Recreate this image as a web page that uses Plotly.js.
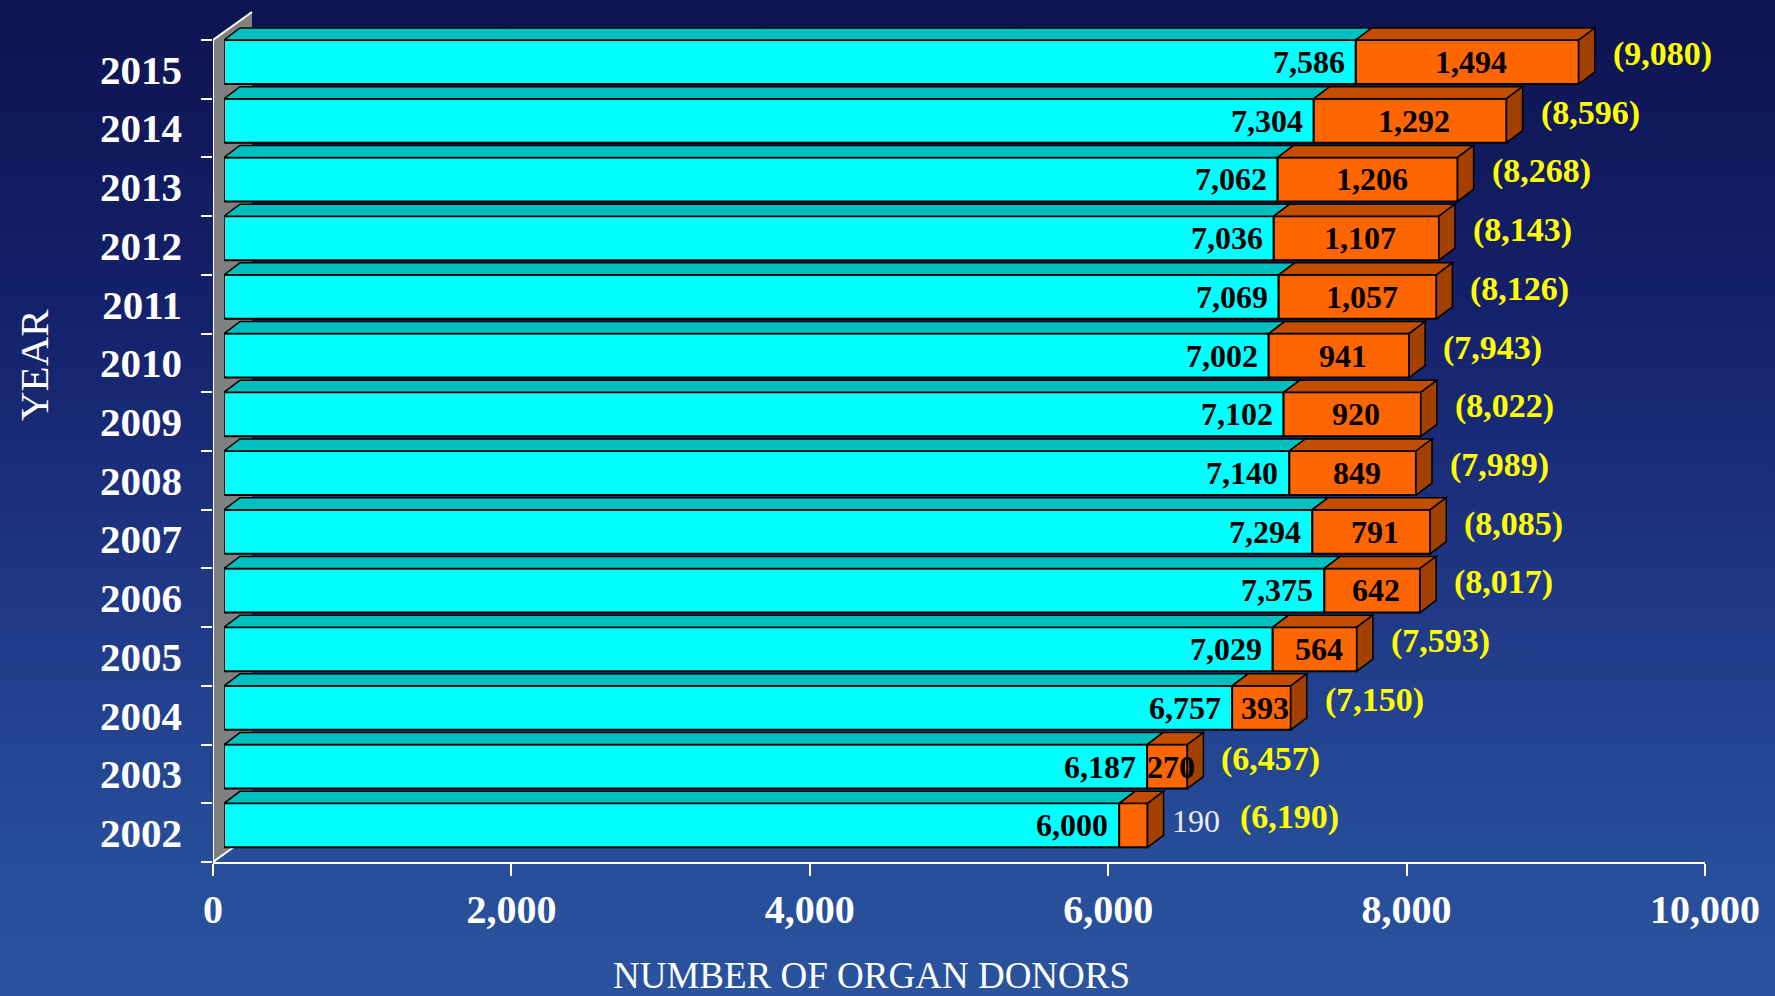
<!DOCTYPE html>
<html>
<head>
<meta charset="utf-8">
<script src="https://cdn.plot.ly/plotly-3.0.1.min.js"></script>
<style>
  html, body { margin: 0; padding: 0; }
  body {
    width: 1775px; height: 996px; overflow: hidden;
    background: linear-gradient(to bottom, #0e1450 0%, #14206a 30%, #1f3886 60%, #274d98 85%, #2a529d 100%);
  }
  #chart { width: 1775px; height: 996px; }
</style>
</head>
<body>
<div id="chart"></div>
<script>
// ---- data ----
const years = [2002, 2003, 2004, 2005, 2006, 2007, 2008, 2009, 2010, 2011, 2012, 2013, 2014, 2015];
const cyanSegment = [6000, 6187, 6757, 7029, 7375, 7294, 7140, 7102, 7002, 7069, 7036, 7062, 7304, 7586];
const orangeSegment = [190, 270, 393, 564, 642, 791, 849, 920, 941, 1057, 1107, 1206, 1292, 1494];
const xTickValues = [0, 2000, 4000, 6000, 8000, 10000];
const xTitle = 'NUMBER OF ORGAN DONORS';
const yTitle = 'YEAR';

// ---- layout geometry (styles) ----
const W = 1775, H = 996;
const ML = 213, MR = 59, MT = 11, MB = 134;
const plotW = W - ML - MR;            // 1503
const axisPx = 1492;                  // visible axis length
const shiftPx = 11;                   // bar front face offset
const PXX = axisPx / 10000;           // px per x unit
const PXY = 58.71;                    // px per year
const topExtra = 29 / PXY;
const barW = 44 / PXY;
const barOff = 0.5 - barW;
const DX = 16 / PXX, DY = 12 / PXY;    // bar depth
const WX = 39 / PXX, WY = 28 / PXY;    // wall depth
const serif = "'Liberation Serif', 'Times New Roman', serif";
const fmt = v => v.toLocaleString('en-US');

const totals = cyanSegment.map((v, i) => v + orangeSegment[i]);

const traces = [
  {
    type: 'bar', orientation: 'h', xaxis: 'x2', yaxis: 'y',
    y: years, x: cyanSegment, base: 0,
    width: barW, offset: barOff,
    marker: { color: '#00FFFF', line: { color: '#000000', width: 2 } },
    hoverinfo: 'skip', showlegend: false
  },
  {
    type: 'bar', orientation: 'h', xaxis: 'x2', yaxis: 'y',
    y: years, x: orangeSegment, base: cyanSegment,
    width: barW, offset: barOff,
    marker: { color: '#FF6600', line: { color: '#000000', width: 2 } },
    hoverinfo: 'skip', showlegend: false
  }
];

const shapes = [];
// back wall
const y0 = years[0] - 0.5, y1 = years[years.length - 1] + 0.5;
shapes.push({
  type: 'path', xref: 'x', yref: 'y', layer: 'below',
  path: `M 0 ${y0} L 0 ${y1} L ${WX} ${y1 + WY} L ${WX} ${y0 + WY} Z`,
  fillcolor: '#808080', line: { width: 0 }
});
shapes.push({ type: 'line', xref: 'x', yref: 'y', layer: 'below', x0: 0, y0: y0, x1: WX, y1: y0 + WY, line: { color: '#FFFFFF', width: 2 } });
shapes.push({ type: 'line', xref: 'x', yref: 'y', layer: 'above', x0: 0, y0: y1, x1: WX, y1: y1 + WY, line: { color: '#FFFFFF', width: 2 } });
shapes.push({ type: 'line', xref: 'x', yref: 'y', layer: 'above', x0: 0, y0: y0, x1: 0, y1: y1, line: { color: '#FFFFFF', width: 2 } });

// 3D faces
years.forEach((yr, i) => {
  const c = cyanSegment[i], t = totals[i];
  const yt = yr + barOff + barW, yb = yr + barOff;
  shapes.push({
    type: 'path', xref: 'x2', yref: 'y', layer: 'above',
    path: `M 0 ${yt} L ${c} ${yt} L ${c + DX} ${yt + DY} L ${DX} ${yt + DY} Z`,
    fillcolor: '#00BFBF', line: { color: '#000000', width: 1.5 }
  });
  shapes.push({
    type: 'path', xref: 'x2', yref: 'y', layer: 'above',
    path: `M ${c} ${yt} L ${t} ${yt} L ${t + DX} ${yt + DY} L ${c + DX} ${yt + DY} Z`,
    fillcolor: '#C44E00', line: { color: '#000000', width: 1.5 }
  });
  shapes.push({
    type: 'path', xref: 'x2', yref: 'y', layer: 'above',
    path: `M ${t} ${yt} L ${t + DX} ${yt + DY} L ${t + DX} ${yb + DY} L ${t} ${yb} Z`,
    fillcolor: '#A24000', line: { color: '#000000', width: 1.5 }
  });
});

const annotations = [];
years.forEach((yr, i) => {
  const c = cyanSegment[i], o = orangeSegment[i], t = totals[i];
  const yc = yr + barOff + barW / 2;
  annotations.push({
    xref: 'x2', yref: 'y', x: c, y: yc, xanchor: 'right', yanchor: 'middle', xshift: -9,
    text: fmt(c), showarrow: false,
    font: { family: serif, size: 32, color: '#000000', weight: 'bold' }
  });
  let extra = 0;
  if (o < 200) {
    annotations.push({
      xref: 'x2', yref: 'y', x: t, y: yc, xanchor: 'left', yanchor: 'middle', xshift: 22, yshift: 4,
      text: fmt(o), showarrow: false,
      font: { family: serif, size: 32, color: '#ECECF8' }
    });
    extra = 58;
  } else {
    annotations.push({
      xref: 'x2', yref: 'y', x: c + o / 2, y: yc, xanchor: 'center', yanchor: 'middle', xshift: 4,
      text: fmt(o), showarrow: false,
      font: { family: serif, size: 32, color: '#000000', weight: 'bold' }
    });
  }
  annotations.push({
    xref: 'x2', yref: 'y', x: t, y: yc, xanchor: 'left', yanchor: 'middle',
    xshift: 32 + extra, yshift: 8,
    text: '(' + fmt(t) + ')', showarrow: false,
    font: { family: serif, size: 34, color: '#FFFF00', weight: 'bold' }
  });
});
annotations.push({
  xref: 'paper', yref: 'paper', x: (871 - ML) / plotW, y: (H - MB - 976) / (H - MT - MB),
  xanchor: 'center', yanchor: 'middle', text: xTitle, showarrow: false,
  font: { family: serif, size: 37, color: '#FFFFFF' }
});
annotations.push({
  xref: 'paper', yref: 'paper', x: (34 - ML) / plotW, y: (H - MB - 365) / (H - MT - MB),
  xanchor: 'center', yanchor: 'middle', textangle: -90, text: yTitle, showarrow: false,
  font: { family: serif, size: 41, color: '#FFFFFF' }
});

const layout = {
  width: W, height: H,
  margin: { l: ML, r: MR, t: MT, b: MB, pad: 0 },
  paper_bgcolor: 'rgba(0,0,0,0)', plot_bgcolor: 'rgba(0,0,0,0)',
  barmode: 'overlay',
  showlegend: false,
  xaxis: {
    domain: [0, axisPx / plotW], range: [0, 10000], anchor: 'y',
    tickmode: 'array', tickvals: xTickValues, ticktext: xTickValues.map(fmt),
    showline: true, linecolor: '#FFFFFF', linewidth: 2,
    ticks: 'outside', ticklen: 12, tickwidth: 2, tickcolor: '#FFFFFF',
    ticklabelstandoff: -1,
    showgrid: false, zeroline: false, fixedrange: true,
    tickfont: { family: serif, size: 40, color: '#FFFFFF', weight: 'bold' }
  },
  xaxis2: {
    domain: [shiftPx / plotW, 1], range: [0, 10000], anchor: 'y',
    visible: false, showgrid: false, zeroline: false, fixedrange: true
  },
  yaxis: {
    range: [y0, y1 + topExtra], anchor: 'x',
    tickmode: 'array', tickvals: years, ticktext: years.map(String),
    ticks: '', showline: false, showgrid: false, zeroline: false, fixedrange: true,
    ticklabelstandoff: 30,
    minor: { tickmode: 'linear', tick0: y0, dtick: 1, ticks: 'outside', ticklen: 11, tickwidth: 2, tickcolor: '#FFFFFF', showgrid: false },
    tickfont: { family: serif, size: 41, color: '#FFFFFF', weight: 'bold' }
  },
  shapes: shapes,
  annotations: annotations
};

Plotly.newPlot('chart', traces, layout, { displayModeBar: false, staticPlot: true });
</script>
</body>
</html>
